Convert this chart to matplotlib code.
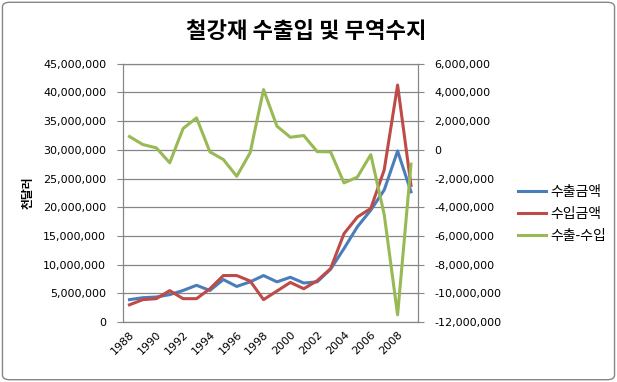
import matplotlib
matplotlib.use('Agg')
import matplotlib.pyplot as plt
from matplotlib.patches import FancyBboxPatch
from matplotlib.ticker import FuncFormatter, MultipleLocator

plt.rcParams['font.family'] = ['DejaVu Sans', 'Noto Sans CJK KR']

years = list(range(1988, 2010))
# 수출금액 (천달러)
exports = [3.9e6, 4.24e6, 4.36e6, 4.77e6, 5.5e6, 6.4e6, 5.5e6, 7.4e6, 6.2e6, 7.0e6, 8.1e6,
           7.0e6, 7.8e6, 6.8e6, 7.0e6, 9.2e6, 12.8e6, 16.6e6, 19.5e6, 23.0e6, 29.8e6, 22.7e6]
# 수입금액 (천달러)
imports = [3.0e6, 3.9e6, 4.07e6, 5.47e6, 4.07e6, 4.07e6, 5.8e6, 8.1e6, 8.1e6, 7.15e6, 3.9e6,
           5.4e6, 6.9e6, 5.8e6, 7.2e6, 9.3e6, 15.4e6, 18.3e6, 19.8e6, 26.5e6, 41.3e6, 23.8e6]
# 수출-수입 (무역수지)
balance = [0.93e6, 0.37e6, 0.14e6, -0.9e6, 1.49e6, 2.23e6, -0.14e6, -0.67e6, -1.84e6, -0.2e6, 4.2e6,
           1.65e6, 0.88e6, 1.0e6, -0.12e6, -0.14e6, -2.3e6, -1.9e6, -0.33e6, -4.5e6, -11.5e6, -1.0e6]

series_names = ['수출금액', '수입금액', '수출-수입']
colors = ['#4A7EBB', '#BE4B48', '#98B954']
grid_color = '#868686'
kr = 'Noto Sans CJK KR'

fig = plt.figure(figsize=(6.17, 3.82), dpi=100)
fig.patches.append(FancyBboxPatch((0.004, 0.006), 0.992, 0.988, boxstyle='round,pad=0,rounding_size=0.012',
                                  transform=fig.transFigure, facecolor='none', edgecolor='#868686', lw=1))

ax = fig.add_axes([0.199, 0.157, 0.478, 0.676])
ax2 = ax.twinx()

l1, = ax.plot(years, exports, color=colors[0], lw=2.2, zorder=3)
l2, = ax.plot(years, imports, color=colors[1], lw=2.2, zorder=3)
l3, = ax2.plot(years, balance, color=colors[2], lw=2.2, zorder=3)

ax.set_xlim(1987.5, 2009.5)
ax.set_ylim(0, 45e6)
ax2.set_ylim(-12e6, 6e6)
ax.yaxis.set_major_locator(MultipleLocator(5e6))
ax2.yaxis.set_major_locator(MultipleLocator(2e6))
fmt = FuncFormatter(lambda v, p: f'{v:,.0f}')
ax.yaxis.set_major_formatter(fmt)
ax2.yaxis.set_major_formatter(fmt)
ax.grid(axis='y', color=grid_color, lw=0.9)
ax.set_axisbelow(True)

ax.set_xticks(years[::2])
ax.set_xticklabels([str(y) for y in years[::2]], rotation=45, ha='right', rotation_mode='anchor')

for a in (ax, ax2):
    for s in a.spines.values():
        s.set_color(grid_color)
    a.tick_params(axis='y', colors=grid_color, labelcolor='black', labelsize=8, length=4)
    a.tick_params(axis='x', length=0, labelsize=8, pad=5)
ax.tick_params(axis='y', pad=8)
ax2.tick_params(axis='y', pad=8)

ax.set_ylabel('천달러', family=kr, fontsize=8.5, fontweight='bold', labelpad=6)
ax.yaxis.set_label_coords(-0.30, 0.50)

fig.text(0.497, 0.917, '철강재 수출입 및 무역수지', family=kr, fontsize=16, fontweight='bold',
         ha='center', va='center')

fig.legend([l1, l2, l3], series_names, loc='center left', bbox_to_anchor=(0.82, 0.44),
           frameon=False, prop={'family': kr, 'size': 10}, handlelength=2.0, handletextpad=0.3,
           labelspacing=0.6)

fig.savefig('out.png', dpi=100)
